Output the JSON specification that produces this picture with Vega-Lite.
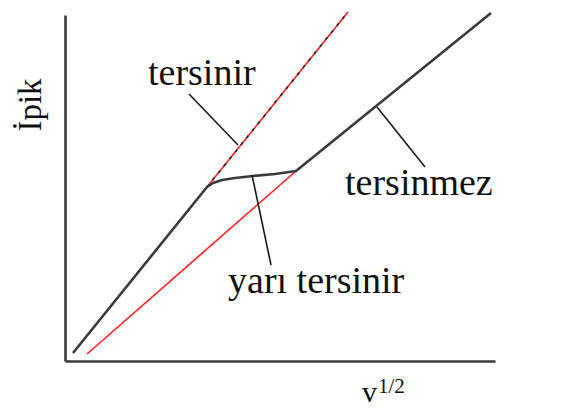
{
  "$schema": "https://vega.github.io/schema/vega-lite/v6.json",
  "width": 430,
  "height": 346,
  "autosize": "none",
  "padding": {"left": 65, "top": 15, "right": 68, "bottom": 55},
  "background": "white",
  "config": {
    "view": {"stroke": null},
    "axis": {"domain": true, "domainColor": "#3a3a3a", "domainWidth": 2.6, "ticks": false, "labels": false, "grid": false, "title": null}
  },
  "datasets": {
    "curve": [
      {"v": 0.186, "i": 0.185},
      {"v": 3.302, "i": 4.023},
      {"v": 3.442, "i": 4.116},
      {"v": 3.651, "i": 4.185},
      {"v": 3.953, "i": 4.231},
      {"v": 4.372, "i": 4.277},
      {"v": 4.884, "i": 4.324},
      {"v": 5.372, "i": 4.393},
      {"v": 9.907, "i": 8.046}
    ],
    "reversible": [
      {"v": 3.302, "i": 4.023},
      {"v": 6.581, "i": 8.069}
    ],
    "irreversible": [
      {"v": 0.512, "i": 0.162},
      {"v": 5.372, "i": 4.393}
    ],
    "leaders": [
      {"name": "tersinir", "v": 2.884, "i": 6.173},
      {"name": "tersinir", "v": 4.023, "i": 4.994},
      {"name": "yarı tersinir", "v": 4.349, "i": 4.301},
      {"name": "yarı tersinir", "v": 4.791, "i": 2.220},
      {"name": "tersinmez", "v": 7.256, "i": 5.873},
      {"name": "tersinmez", "v": 8.372, "i": 4.486}
    ],
    "labels": [
      {"text": "tersinir", "v": 1.93, "i": 6.382},
      {"text": "tersinmez", "v": 6.512, "i": 3.838},
      {"text": "yarı tersinir", "v": 3.791, "i": 1.572}
    ]
  },
  "layer": [
    {
      "data": {"values": [{"v": 0, "i": 0}]},
      "mark": {"type": "point", "opacity": 0},
      "encoding": {
        "x": {"field": "v", "type": "quantitative", "scale": {"domain": [0, 10], "nice": false, "zero": false}, "axis": {}},
        "y": {"field": "i", "type": "quantitative", "scale": {"domain": [0, 8], "nice": false, "zero": false}, "axis": {}}
      }
    },
    {
      "data": {"name": "irreversible"},
      "mark": {"type": "line", "color": "#ff2020", "strokeWidth": 1.6},
      "encoding": {"x": {"field": "v", "type": "quantitative"}, "y": {"field": "i", "type": "quantitative"}}
    },
    {
      "data": {"name": "reversible"},
      "mark": {"type": "line", "color": "#ff2020", "strokeWidth": 1.6},
      "encoding": {"x": {"field": "v", "type": "quantitative"}, "y": {"field": "i", "type": "quantitative"}}
    },
    {
      "data": {"name": "reversible"},
      "mark": {"type": "line", "color": "#222222", "strokeWidth": 1.6, "strokeDash": [3, 6]},
      "encoding": {"x": {"field": "v", "type": "quantitative"}, "y": {"field": "i", "type": "quantitative"}}
    },
    {
      "data": {"name": "curve"},
      "mark": {"type": "line", "color": "#3a3a3a", "strokeWidth": 2.6, "strokeJoin": "round"},
      "encoding": {"x": {"field": "v", "type": "quantitative"}, "y": {"field": "i", "type": "quantitative"}}
    },
    {
      "data": {"name": "leaders"},
      "mark": {"type": "line", "color": "#1a1a1a", "strokeWidth": 1.6},
      "encoding": {
        "x": {"field": "v", "type": "quantitative"},
        "y": {"field": "i", "type": "quantitative"},
        "detail": {"field": "name"}
      }
    },
    {
      "data": {"name": "labels"},
      "mark": {"type": "text", "font": "Liberation Serif, Times New Roman, serif", "color": "#111111", "fontSize": 38, "align": "left", "baseline": "alphabetic"},
      "encoding": {
        "x": {"field": "v", "type": "quantitative"},
        "y": {"field": "i", "type": "quantitative"},
        "text": {"field": "text"}
      }
    },
    {
      "data": {"values": [{"text": "İpik", "v": -0.558, "i": 5.919}]},
      "mark": {"type": "text", "font": "Liberation Serif, Times New Roman, serif", "color": "#111111", "fontSize": 33, "angle": 270, "align": "center", "baseline": "alphabetic"},
      "encoding": {
        "x": {"field": "v", "type": "quantitative"},
        "y": {"field": "i", "type": "quantitative"},
        "text": {"field": "text"}
      }
    },
    {
      "data": {"values": [{"text": "v", "v": 6.907, "i": -0.948}]},
      "mark": {"type": "text", "font": "Liberation Serif, Times New Roman, serif", "color": "#111111", "fontSize": 30, "align": "left", "baseline": "alphabetic"},
      "encoding": {
        "x": {"field": "v", "type": "quantitative"},
        "y": {"field": "i", "type": "quantitative"},
        "text": {"field": "text"}
      }
    },
    {
      "data": {"values": [{"text": "1/2", "v": 7.279, "i": -0.74}]},
      "mark": {"type": "text", "font": "Liberation Serif, Times New Roman, serif", "color": "#111111", "fontSize": 21, "align": "left", "baseline": "alphabetic"},
      "encoding": {
        "x": {"field": "v", "type": "quantitative"},
        "y": {"field": "i", "type": "quantitative"},
        "text": {"field": "text"}
      }
    }
  ]
}
